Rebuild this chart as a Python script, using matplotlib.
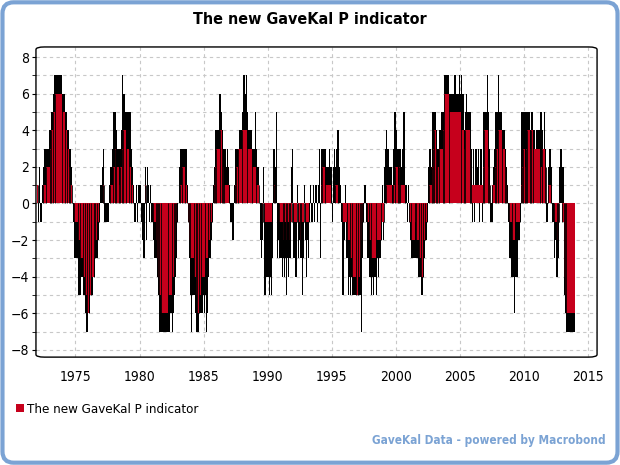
import numpy as np
import matplotlib
matplotlib.use('Agg')
import matplotlib.pyplot as plt
from matplotlib.patches import FancyBboxPatch

plt.rcParams['font.family'] = ['DejaVu Sans']
plt.rcParams['font.stretch'] = 'condensed'

# monthly readings, one row per year, starting Jan 1972
start_year = 1972

# main level of the indicator (red fill)
p_level = [
    [1, 0, 0, 0, 0, 0, 1, 1, 2, 2, 2, 2],          # 1972
    [3, 4, 4, 5, 5, 6, 6, 6, 6, 6, 6, 5],          # 1973
    [5, 5, 4, 4, 3, 3, 2, 1, 1, 0, 0, -1],         # 1974
    [-1, -1, -2, -2, -3, -3, -3, -4, -4, -5, -5, -6],
    [-6, -5, -5, -4, -4, -3, -2, -2, -1, -1, 0, 0],
    [0, 0, 1, 0, 0, 0, 0, 0, 1, 1, 1, 2],
    [2, 3, 2, 2, 2, 1, 2, 2, 3, 4, 4, 3],
    [3, 3, 2, 2, 1, 1, 0, 0, 0, 0, 0, 0],
    [0, 0, 0, 0, 0, 1, 0, 0, 0, 0, 0, 0],          # 1980
    [0, -1, -1, -2, -3, -4, -5, -5, -6, -6, -6, -6],
    [-6, -6, -6, -5, -5, -5, -4, -4, -3, -2, -1, 0],
    [0, 0, 1, 1, 2, 2, 2, 1, 0, -1, -2, -3],
    [-3, -3, -3, -4, -4, -5, -6, -6, -5, -5, -4, -4],
    [-4, -3, -3, -3, -2, -2, -1, -1, 0, 0, 1, 2],
    [3, 3, 3, 4, 4, 3, 2, 1, 1, 1, 1, 1],
    [0, 0, 0, 0, 0, 1, 2, 2, 3, 3, 3, 3],
    [4, 4, 4, 4, 4, 3, 3, 3, 3, 2, 2, 2],
    [2, 1, 1, 1, 0, 0, 0, -1, 0, -1, -1, -1],
    [-1, -1, -1, -1, 0, 0, 1, 0, 0, 0, 0, -1],     # 1990
    [-1, -1, -2, -1, -1, -2, -1, -1, -2, -1, -1, 0],
    [-1, -1, -1, 0, -1, -1, -2, -1, -1, -1, 0, -1],
    [-1, -1, -1, 0, 0, 0, 0, 0, 0, 0, 0, 0],
    [0, 0, 1, 2, 2, 2, 1, 1, 1, 1, 1, 0],
    [0, 0, 0, 1, 1, 1, 0, 0, 0, 0, -1, -1],
    [-1, -1, -2, -2, -2, -3, -3, -4, -4, -4, -4, -5],
    [-5, -4, -3, -2, -1, 0, 0, 0, 0, -1, -1, -2],
    [-2, -3, -3, -3, -3, -2, -2, -2, -2, -2, -1, -1],
    [-1, 0, 0, 1, 1, 1, 1, 1, 0, 1, 1, 2],
    [2, 2, 1, 2, 1, 1, 1, 1, 1, 0, 0, 0],          # 2000
    [-1, -1, -2, -2, -2, -2, -1, -2, -2, -2, -3, -3],
    [-4, -2, -2, -1, -1, 0, 0, 1, 1, 1, 2, 3],
    [4, 4, 3, 2, 3, 3, 3, 3, 4, 6, 6, 6],
    [6, 6, 5, 5, 5, 5, 5, 5, 5, 5, 5, 5],
    [5, 4, 4, 4, 3, 4, 4, 4, 4, 3, 1, 1],
    [1, 1, 1, 1, 1, 1, 1, 1, 1, 1, 2, 4],
    [4, 4, 2, 1, 0, 0, 1, 1, 1, 2, 3, 3],
    [4, 4, 4, 3, 3, 3, 2, 1, 0, 0, -1, -1],
    [-1, -2, -2, -2, -1, -1, -1, -1, 0, 1, 2, 3],
    [3, 2, 3, 4, 4, 4, 3, 4, 3, 3, 3, 3],          # 2010
    [3, 3, 3, 2, 2, 3, 3, 3, 2, 0, 1, 1],
    [1, 0, 0, 0, -1, -1, -1, -2, -1, 0, 0, 0],
    [-1, -4, -5, -6, -6, -6, -6, -6, -6, -6, -6, -6],
]

# extreme weekly reading within the month (black)
p_extreme = [
    [1, -1, 2, -1, -1, 1, 2, 3, 3, 3, 3, 4],       # 1972
    [4, 5, 5, 6, 7, 7, 7, 7, 7, 7, 7, 6],
    [6, 6, 5, 5, 4, 4, 3, 3, 2, 0, -1, -3],
    [-3, -3, -5, -5, -5, -4, -4, -5, -5, -6, -7, -7],
    [-6, -6, -5, -5, -4, -4, -3, -3, -3, -2, -1, 1],
    [1, 2, 3, -1, -1, -1, -1, 1, 2, 2, 3, 5],
    [5, 5, 4, 3, 3, 3, 3, 4, 7, 6, 5, 5],
    [5, 5, 5, 5, 3, 2, 1, -1, -1, 1, -1, 1],
    [1, -1, -2, -3, -3, 2, -2, 2, 1, -1, 1, -1],   # 1980
    [-1, -2, -3, -3, -4, -5, -7, -7, -7, -7, -7, -7],
    [-7, -7, -7, -7, -7, -6, -7, -6, -5, -4, -3, -1],
    [0, 2, 3, 3, 3, 3, 3, 3, 1, -1, -3, -5],
    [-7, -5, -5, -5, -6, -7, -7, -7, -6, -6, -6, -5],
    [-6, -5, -7, -6, -4, -3, -3, -2, -1, 1, 2, 4],
    [4, 4, 6, 6, 5, 4, 3, 3, 3, 2, 3, 2],
    [1, -1, -1, -2, 1, 3, 3, 3, 3, 4, 4, 4],
    [5, 7, 7, 6, 7, 5, 4, 4, 4, 3, 3, 3],
    [5, 3, 2, 2, 0, -2, -3, -2, 2, -5, -4, -4],
    [-4, -5, -4, -5, -3, 3, 3, 2, 5, -3, -2, -3],  # 1990
    [-3, -4, -3, -4, -3, -5, -3, -4, -3, -3, 2, 3],
    [-3, -3, -4, 1, -3, -2, -3, -3, -5, -3, 1, -2],
    [-4, -2, -3, -1, 1, -1, 1, -1, 1, 1, -1, 1],
    [3, -3, 3, 3, 3, 3, 3, 2, 2, 3, 2, 2],
    [-1, 2, 3, 2, 3, 4, 4, 2, 1, -1, -5, -2],
    [1, -3, -3, -5, -4, -5, -4, -5, -5, -5, -5, -5],
    [-5, -5, -5, -7, -3, -1, 1, 1, -1, -3, -3, -4],
    [-4, -5, -4, -5, -4, -5, -3, -4, -3, -3, -2, 1],
    [-2, 2, 3, 4, 3, 3, 2, 2, 1, 3, 5, 5],
    [4, 3, 3, 3, 3, 2, 3, 5, 5, 1, -1, 1],         # 2000
    [-1, -2, -3, -3, -3, -3, -3, -3, -3, -4, -4, -4],
    [-5, -4, -3, -2, -2, -1, 2, 3, 3, 2, 5, 5],
    [5, 5, 4, 3, 4, 4, 5, 5, 5, 7, 7, 7],
    [7, 7, 6, 6, 6, 6, 7, 7, 6, 6, 6, 7],
    [6, 7, 6, 6, 4, 5, 6, 5, 5, 5, 3, -1],
    [3, -1, 3, 3, 2, 3, -1, 3, 3, -1, 5, 5],
    [5, 7, 5, 3, -1, -1, -1, 2, 3, 5, 5, 5],
    [7, 5, 5, 4, 4, 4, 3, 2, 1, -1, -3, -3],
    [-4, -4, -4, -6, -4, -4, -2, -2, -1, 5, 5, 5],
    [5, 5, 5, 5, 5, 5, 4, 5, 4, 4, 3, 4],          # 2010
    [4, 4, 4, 5, 5, 4, 3, 5, 3, -1, 2, 3],
    [3, 2, -1, -1, -3, -2, -4, -4, -3, 2, 3, 3],
    [2, -5, -6, -7, -7, -7, -7, -7, -7, -7, -7, -7],
]

level = np.array(p_level).ravel()
extreme = np.array(p_extreme).ravel()
t = start_year + np.arange(len(level)) / 12.0

red = '#c6001c'
frame_blue = '#7ba3d4'

fig = plt.figure(figsize=(6.2, 4.65), dpi=100)
frame = FancyBboxPatch((0.004, 0.005), 0.992, 0.99,
                       boxstyle='round,pad=0,rounding_size=0.018',
                       transform=fig.transFigure, fc='white',
                       ec=frame_blue, lw=3, mutation_aspect=620 / 465, zorder=-10)
fig.patches.append(frame)

ax = fig.add_axes([0.058, 0.232, 0.905, 0.667])
ax.set_facecolor('none')

# black = monthly extremes, red = indicator level
ax.bar(t, extreme, width=1 / 12, align='edge', color='black', linewidth=0, zorder=2)
bars = ax.bar(t, level, width=1 / 12, align='edge', color=red, linewidth=0, zorder=3,
              label='The new GaveKal P indicator')

# bar outlines where the level steps
step = np.nonzero(np.diff(level))[0] + 1
prev, cur = level[step - 1], level[step]
edge_top = np.where(np.abs(prev) > np.abs(cur), prev, cur)
ax.vlines(t[step], 0, edge_top, color='black', lw=0.6, zorder=4)

ax.set_xlim(1971.92, 2015.7)
ax.set_ylim(-8.4, 8.55)
ax.set_xticks(np.arange(1975, 2016, 5))
ax.set_yticks(np.arange(-8, 9, 2))
ax.set_yticks(np.arange(-7, 8, 2), minor=True)
ax.grid(True, which='both', axis='y', color='#c8c8c8', ls=(0, (3, 3)), lw=0.8, zorder=0)
ax.grid(True, which='major', axis='x', color='#c8c8c8', ls=(0, (3, 3)), lw=0.8, zorder=0)
ax.set_axisbelow(True)
ax.tick_params(axis='y', which='both', length=3, labelsize=10, pad=2)
ax.tick_params(axis='x', length=0, labelsize=10, pad=9)
for s in ax.spines.values():
    s.set_visible(False)
ax.add_patch(FancyBboxPatch((0, 0), 1, 1, boxstyle='round,pad=0,rounding_size=0.015',
                            transform=ax.transAxes, fill=False, ec='black', lw=1,
                            clip_on=False, zorder=5, mutation_aspect=0.667 * 465 / (0.905 * 620)))

fig.text(0.5, 0.957, 'The new GaveKal P indicator', ha='center', va='center',
         fontsize=11.5, fontweight='bold')

fig.legend(handles=[bars], loc='center left', bbox_to_anchor=(0.006, 0.12),
           frameon=False, fontsize=9.5, handlelength=0.6, handleheight=0.6,
           handletextpad=0.3)

fig.text(0.977, 0.052, 'GaveKal Data - powered by Macrobond', ha='right', va='center',
         fontsize=8.5, fontweight='bold', color=frame_blue)

fig.savefig('out.png', dpi=100)
